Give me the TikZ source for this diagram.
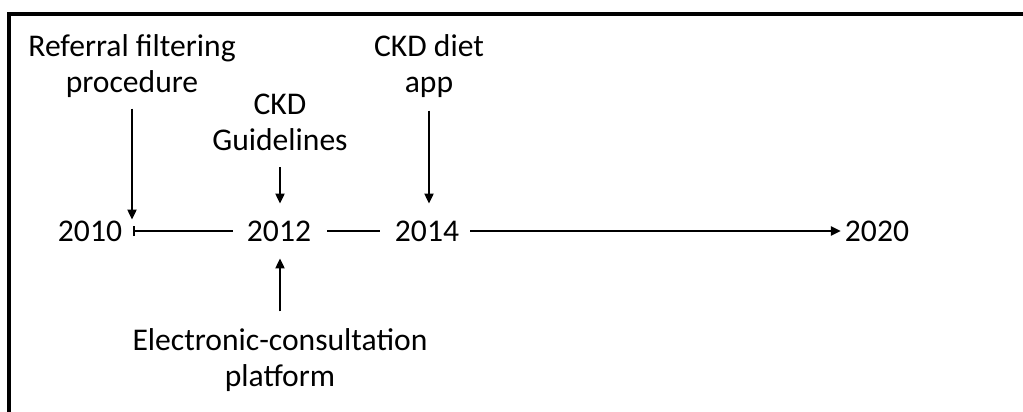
\documentclass[tikz,border=0pt]{standalone}
\usepackage{fontspec}
\setmainfont{Carlito}
\usetikzlibrary{arrows.meta}

\begin{document}
\begin{tikzpicture}[x=0.5pt, y=-0.5pt, line width=1.1pt,
    lbl/.style={align=center, inner sep=0pt, font=\fontsize{15.8}{18}\selectfont},
    arr/.style={-{Triangle[width=4.5pt,length=5pt]}}]
    \useasboundingbox (0,0) rectangle (1023,412);
    \draw[line width=1.6pt] (9,440) -- (9,14) -- (1040,14);
    % years on the line
    \node[lbl] (y10) at (90,231) {2010};
    \node[lbl] (y12) at (279,231) {2012};
    \node[lbl] (y14) at (427,231) {2014};
    \node[lbl] (y20) at (877,231) {2020};
    \draw[{Bar[width=5pt]}-] ([xshift=5pt]y10.east) -- ([xshift=-6.5pt]y12.west);
    \draw ([xshift=7.5pt]y12.east) -- ([xshift=-7pt]y14.west);
    \draw[arr] ([xshift=5pt]y14.east) -- ([xshift=-1.5pt]y20.west);
    % events
    \node[lbl] (ref) at (132,66) {Referral filtering\\procedure};
    \node[lbl] (gl) at (280,122) {CKD\\Guidelines};
    \node[lbl] (app) at (429,66) {CKD diet\\app};
    \node[lbl] (ec) at (280,360) {Electronic-consultation\\platform};
    \draw[arr, shorten <=5pt] (ref.south) -- ([xshift=21pt]y10.north);
    \draw[arr, shorten <=8pt, shorten >=8pt] (gl.south) -- (gl.south |- y12.north);
    \draw[arr, shorten <=6pt, shorten >=8pt] (app.south) -- (app.south |- y14.north);
    \draw[arr, shorten <=8pt, shorten >=8pt] (ec.north) -- (ec.north |- y12.south);
\end{tikzpicture}
\end{document}
